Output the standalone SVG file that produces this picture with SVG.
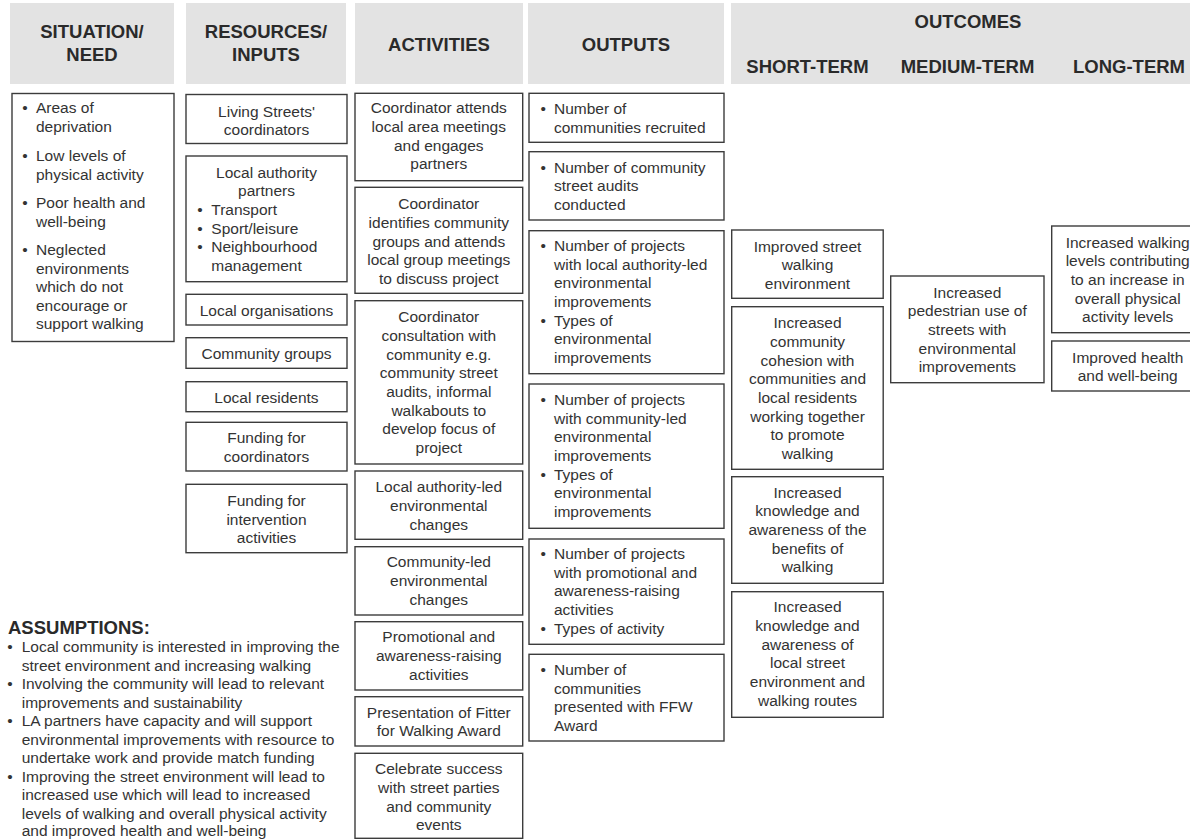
<svg xmlns="http://www.w3.org/2000/svg" width="1190" height="840" viewBox="0 0 1190 840">
<style>
.hdr{fill:#e3e3e3}
.box{fill:#ffffff;stroke:#3c3c3c;stroke-width:1.4}
.t{font-family:"Liberation Sans",Arial,sans-serif;font-size:15.5px;fill:#333333}
.c{text-anchor:middle}
.h{font-family:"Liberation Sans",Arial,sans-serif;font-size:18.5px;font-weight:bold;fill:#2a2a2a;text-anchor:middle}
.a{font-family:"Liberation Sans",Arial,sans-serif;font-size:18.5px;font-weight:bold;fill:#2a2a2a}
</style>
<rect width="1190" height="840" fill="#ffffff"/>

<g id="header">
  <rect class="hdr" x="10" y="3" width="164" height="81"/>
  <rect class="hdr" x="186" y="3" width="160" height="81"/>
  <rect class="hdr" x="355" y="3" width="168" height="81"/>
  <rect class="hdr" x="528" y="3" width="196" height="81"/>
  <rect class="hdr" x="731" y="3" width="470" height="81"/>
  <text class="h"><tspan x="92" y="38">SITUATION/</tspan><tspan x="92" y="61">NEED</tspan></text>
  <text class="h"><tspan x="266" y="38">RESOURCES/</tspan><tspan x="266" y="61">INPUTS</tspan></text>
  <text class="h" x="439" y="51">ACTIVITIES</text>
  <text class="h" x="626" y="51">OUTPUTS</text>
  <text class="h" x="968" y="28">OUTCOMES</text>
  <text class="h" x="807.5" y="72.5">SHORT-TERM</text>
  <text class="h" x="967.5" y="72.5">MEDIUM-TERM</text>
  <text class="h" x="1129" y="72.5">LONG-TERM</text>
</g>

<g id="situation">
  <rect class="box" x="12" y="93.5" width="162" height="248"/>
  <text class="t">
    <tspan x="22.3" y="113.3">•</tspan><tspan x="36" y="113.3">Areas of</tspan>
    <tspan x="36" y="131.8">deprivation</tspan>
    <tspan x="22.3" y="161">•</tspan><tspan x="36" y="161">Low levels of</tspan>
    <tspan x="36" y="179.5">physical activity</tspan>
    <tspan x="22.3" y="208">•</tspan><tspan x="36" y="208">Poor health and</tspan>
    <tspan x="36" y="226.5">well-being</tspan>
    <tspan x="22.3" y="255">•</tspan><tspan x="36" y="255">Neglected</tspan>
    <tspan x="36" y="273.5">environments</tspan>
    <tspan x="36" y="292">which do not</tspan>
    <tspan x="36" y="310.5">encourage or</tspan>
    <tspan x="36" y="329">support walking</tspan>
  </text>
</g>

<g id="resources">
  <g id="r1"><rect class="box" x="186" y="94.5" width="161" height="49"/>
    <text class="t c"><tspan x="266.5" y="116.7">Living Streets'</tspan><tspan x="266.5" y="135">coordinators</tspan></text></g>
  <g id="r2"><rect class="box" x="186" y="156" width="161" height="125.7"/>
    <text class="t"><tspan class="c" x="266.5" y="177.7">Local authority</tspan><tspan class="c" x="266.5" y="196.3">partners</tspan></text>
    <text class="t">
      <tspan x="197.3" y="215">•</tspan><tspan x="211.3" y="215">Transport</tspan>
      <tspan x="197.3" y="233.5">•</tspan><tspan x="211.3" y="233.5">Sport/leisure</tspan>
      <tspan x="197.3" y="252">•</tspan><tspan x="211.3" y="252">Neighbourhood</tspan>
      <tspan x="211.3" y="270.5">management</tspan>
    </text></g>
  <g id="r3"><rect class="box" x="186" y="294.3" width="161" height="30.7"/>
    <text class="t c" x="266.5" y="316">Local organisations</text></g>
  <g id="r4"><rect class="box" x="186" y="337.7" width="161" height="30.6"/>
    <text class="t c" x="266.5" y="359">Community groups</text></g>
  <g id="r5"><rect class="box" x="186" y="381.7" width="161" height="30"/>
    <text class="t c" x="266.5" y="402.7">Local residents</text></g>
  <g id="r6"><rect class="box" x="186" y="422.3" width="161" height="48.7"/>
    <text class="t c"><tspan x="266.5" y="443.3">Funding for</tspan><tspan x="266.5" y="461.8">coordinators</tspan></text></g>
  <g id="r7"><rect class="box" x="186" y="484.3" width="161" height="68.4"/>
    <text class="t c"><tspan x="266.5" y="506">Funding for</tspan><tspan x="266.5" y="524.5">intervention</tspan><tspan x="266.5" y="543">activities</tspan></text></g>
</g>

<g id="activities">
  <g id="a1"><rect class="box" x="355" y="93.3" width="167.7" height="87.4"/>
    <text class="t c"><tspan x="438.8" y="113.3">Coordinator attends</tspan><tspan x="438.8" y="132">local area meetings</tspan><tspan x="438.8" y="150.6">and engages</tspan><tspan x="438.8" y="169.3">partners</tspan></text></g>
  <g id="a2"><rect class="box" x="355" y="187.3" width="167.7" height="106"/>
    <text class="t c"><tspan x="438.8" y="209.3">Coordinator</tspan><tspan x="438.8" y="228">identifies community</tspan><tspan x="438.8" y="246.6">groups and attends</tspan><tspan x="438.8" y="265.3">local group meetings</tspan><tspan x="438.8" y="284">to discuss project</tspan></text></g>
  <g id="a3"><rect class="box" x="355" y="300.7" width="167.7" height="163.3"/>
    <text class="t c"><tspan x="438.8" y="322.3">Coordinator</tspan><tspan x="438.8" y="341">consultation with</tspan><tspan x="438.8" y="359.6">community e.g.</tspan><tspan x="438.8" y="378.3">community street</tspan><tspan x="438.8" y="397">audits, informal</tspan><tspan x="438.8" y="415.7">walkabouts to</tspan><tspan x="438.8" y="434.3">develop focus of</tspan><tspan x="438.8" y="453">project</tspan></text></g>
  <g id="a4"><rect class="box" x="355" y="471" width="167.7" height="68.3"/>
    <text class="t c"><tspan x="438.8" y="492.3">Local authority-led</tspan><tspan x="438.8" y="511">environmental</tspan><tspan x="438.8" y="529.7">changes</tspan></text></g>
  <g id="a5"><rect class="box" x="355" y="546.7" width="167.7" height="68.3"/>
    <text class="t c"><tspan x="438.8" y="567.3">Community-led</tspan><tspan x="438.8" y="586">environmental</tspan><tspan x="438.8" y="604.7">changes</tspan></text></g>
  <g id="a6"><rect class="box" x="355" y="621.7" width="167.7" height="68.3"/>
    <text class="t c"><tspan x="438.8" y="642.3">Promotional and</tspan><tspan x="438.8" y="661">awareness-raising</tspan><tspan x="438.8" y="679.7">activities</tspan></text></g>
  <g id="a7"><rect class="box" x="355" y="696.7" width="167.7" height="49.3"/>
    <text class="t c"><tspan x="438.8" y="717.7">Presentation of Fitter</tspan><tspan x="438.8" y="736.3">for Walking Award</tspan></text></g>
  <g id="a8"><rect class="box" x="355" y="753.3" width="167.7" height="85"/>
    <text class="t c"><tspan x="438.8" y="774.3">Celebrate success</tspan><tspan x="438.8" y="793">with street parties</tspan><tspan x="438.8" y="811.7">and community</tspan><tspan x="438.8" y="830.3">events</tspan></text></g>
</g>

<g id="outputs">
  <g id="o1"><rect class="box" x="529" y="93.3" width="195" height="49"/>
    <text class="t"><tspan x="540.6" y="114">•</tspan><tspan x="554" y="114">Number of</tspan><tspan x="554" y="132.7">communities recruited</tspan></text></g>
  <g id="o2"><rect class="box" x="529" y="151.7" width="195" height="68.3"/>
    <text class="t"><tspan x="540.6" y="172.7">•</tspan><tspan x="554" y="172.7">Number of community</tspan><tspan x="554" y="191.3">street audits</tspan><tspan x="554" y="210">conducted</tspan></text></g>
  <g id="o3"><rect class="box" x="529" y="230.7" width="195" height="143"/>
    <text class="t"><tspan x="540.6" y="251">•</tspan><tspan x="554" y="251">Number of projects</tspan><tspan x="554" y="269.7">with local authority-led</tspan><tspan x="554" y="288.3">environmental</tspan><tspan x="554" y="307">improvements</tspan><tspan x="540.6" y="325.7">•</tspan><tspan x="554" y="325.7">Types of</tspan><tspan x="554" y="344.3">environmental</tspan><tspan x="554" y="363">improvements</tspan></text></g>
  <g id="o4"><rect class="box" x="529" y="384" width="195" height="144.3"/>
    <text class="t"><tspan x="540.6" y="405">•</tspan><tspan x="554" y="405">Number of projects</tspan><tspan x="554" y="423.7">with community-led</tspan><tspan x="554" y="442.3">environmental</tspan><tspan x="554" y="461">improvements</tspan><tspan x="540.6" y="479.7">•</tspan><tspan x="554" y="479.7">Types of</tspan><tspan x="554" y="498.3">environmental</tspan><tspan x="554" y="517">improvements</tspan></text></g>
  <g id="o5"><rect class="box" x="529" y="539" width="195" height="105.3"/>
    <text class="t"><tspan x="540.6" y="559">•</tspan><tspan x="554" y="559">Number of projects</tspan><tspan x="554" y="577.7">with promotional and</tspan><tspan x="554" y="596.3">awareness-raising</tspan><tspan x="554" y="615">activities</tspan><tspan x="540.6" y="633.7">•</tspan><tspan x="554" y="633.7">Types of activity</tspan></text></g>
  <g id="o6"><rect class="box" x="529" y="654.3" width="195" height="86.7"/>
    <text class="t"><tspan x="540.6" y="675">•</tspan><tspan x="554" y="675">Number of</tspan><tspan x="554" y="693.7">communities</tspan><tspan x="554" y="712.3">presented with FFW</tspan><tspan x="554" y="731">Award</tspan></text></g>
</g>

<g id="short-term">
  <g id="s1"><rect class="box" x="731.7" y="230" width="151.5" height="68.3"/>
    <text class="t c"><tspan x="807.5" y="251.7">Improved street</tspan><tspan x="807.5" y="270.3">walking</tspan><tspan x="807.5" y="289">environment</tspan></text></g>
  <g id="s2"><rect class="box" x="731.7" y="306.7" width="151.5" height="162.6"/>
    <text class="t c"><tspan x="807.5" y="328.3">Increased</tspan><tspan x="807.5" y="347">community</tspan><tspan x="807.5" y="365.7">cohesion with</tspan><tspan x="807.5" y="384.3">communities and</tspan><tspan x="807.5" y="403">local residents</tspan><tspan x="807.5" y="421.7">working together</tspan><tspan x="807.5" y="440.3">to promote</tspan><tspan x="807.5" y="459">walking</tspan></text></g>
  <g id="s3"><rect class="box" x="731.7" y="476.7" width="151.5" height="106.6"/>
    <text class="t c"><tspan x="807.5" y="497.7">Increased</tspan><tspan x="807.5" y="516.3">knowledge and</tspan><tspan x="807.5" y="535">awareness of the</tspan><tspan x="807.5" y="553.7">benefits of</tspan><tspan x="807.5" y="572.3">walking</tspan></text></g>
  <g id="s4"><rect class="box" x="731.7" y="591.7" width="151.5" height="125.6"/>
    <text class="t c"><tspan x="807.5" y="612.3">Increased</tspan><tspan x="807.5" y="631">knowledge and</tspan><tspan x="807.5" y="649.7">awareness of</tspan><tspan x="807.5" y="668.3">local street</tspan><tspan x="807.5" y="687">environment and</tspan><tspan x="807.5" y="705.7">walking routes</tspan></text></g>
</g>

<g id="medium-term">
  <rect class="box" x="890.7" y="276" width="153.3" height="106.7"/>
  <text class="t c"><tspan x="967.3" y="297.7">Increased</tspan><tspan x="967.3" y="316.4">pedestrian use of</tspan><tspan x="967.3" y="335">streets with</tspan><tspan x="967.3" y="353.7">environmental</tspan><tspan x="967.3" y="372.4">improvements</tspan></text>
</g>

<g id="long-term">
  <g id="l1"><rect class="box" x="1051.7" y="226" width="152" height="106.7"/>
    <text class="t c"><tspan x="1127.7" y="247.7">Increased walking</tspan><tspan x="1127.7" y="266.4">levels contributing</tspan><tspan x="1127.7" y="285">to an increase in</tspan><tspan x="1127.7" y="303.7">overall physical</tspan><tspan x="1127.7" y="322.4">activity levels</tspan></text></g>
  <g id="l2"><rect class="box" x="1051.7" y="341" width="152" height="50"/>
    <text class="t c"><tspan x="1127.7" y="362.7">Improved health</tspan><tspan x="1127.7" y="381.3">and well-being</tspan></text></g>
</g>

<g id="assumptions">
  <text class="a" x="8" y="634">ASSUMPTIONS:</text>
  <text class="t">
    <tspan x="7.3" y="652">•</tspan><tspan x="21.7" y="652">Local community is interested in improving the</tspan>
    <tspan x="21.7" y="670.5">street environment and increasing walking</tspan>
    <tspan x="7.3" y="689">•</tspan><tspan x="21.7" y="689">Involving the community will lead to relevant</tspan>
    <tspan x="21.7" y="707.5">improvements and sustainability</tspan>
    <tspan x="7.3" y="726">•</tspan><tspan x="21.7" y="726">LA partners have capacity and will support</tspan>
    <tspan x="21.7" y="744.5">environmental improvements with resource to</tspan>
    <tspan x="21.7" y="763">undertake work and provide match funding</tspan>
    <tspan x="7.3" y="781.5">•</tspan><tspan x="21.7" y="781.5">Improving the street environment will lead to</tspan>
    <tspan x="21.7" y="800">increased use which will lead to increased</tspan>
    <tspan x="21.7" y="818.5">levels of walking and overall physical activity</tspan>
    <tspan x="21.7" y="836">and improved health and well-being</tspan>
  </text>
</g>

<g id="connectors"/>
</svg>
